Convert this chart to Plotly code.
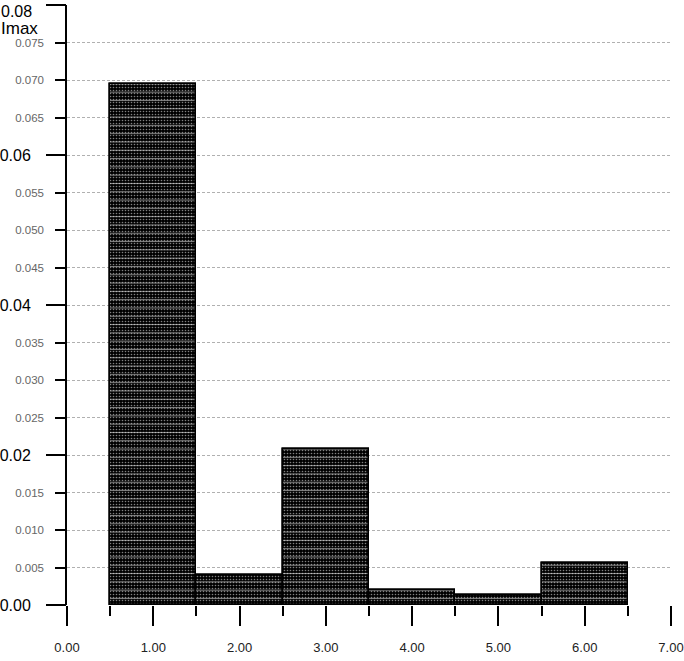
import plotly.graph_objects as go

categories = [1, 2, 3, 4, 5, 6]
values = [0.0695, 0.0040, 0.0208, 0.0020, 0.0013, 0.0056]
x_tick_vals = [0, 1, 2, 3, 4, 5, 6, 7]
x_tick_text = ["0.00", "1.00", "2.00", "3.00", "4.00", "5.00", "6.00", "7.00"]
y_major_vals = [0.0, 0.02, 0.04, 0.06, 0.08]
y_major_text = ["0.00", "0.02", "0.04", "0.06", ""]
y_top_label = "0.08"
y_minor_vals = [i * 0.005 for i in range(17)]
y_minor_text = ["" if i % 4 == 0 else f"{i*0.005:.3f}" for i in range(17)]
y_label = "Imax"

FONT = "Liberation Sans, Arial, sans-serif"
EPSX = 1e-6
EPSY = 1e-8

fig = go.Figure()
fig.add_trace(go.Bar(
    x=categories, y=values, width=1.0,
    marker=dict(color="black", line=dict(color="black", width=1.5),
                pattern=dict(shape=".", fgcolor="white", bgcolor="black", size=3, solidity=0.22)),
    showlegend=False, hoverinfo="skip",
))
fig.add_trace(go.Bar(
    x=categories, y=values, width=1.0,
    marker=dict(color="rgba(0,0,0,0)", line=dict(color="black", width=1.5),
                pattern=dict(shape="-", fgcolor="white", bgcolor="rgba(0,0,0,0)", size=8.3, solidity=0.13,
                             fillmode="overlay")),
    showlegend=False, hoverinfo="skip",
))
fig.add_trace(go.Scatter(x=[], y=[], yaxis="y2", showlegend=False, hoverinfo="skip"))

fig.update_layout(
    width=684, height=661,
    margin=dict(l=67, r=13, t=5, b=56, autoexpand=False),
    paper_bgcolor="white", plot_bgcolor="white",
    barmode="overlay", bargap=0,
    xaxis=dict(
        range=[-EPSX, 7 + EPSX], tickvals=x_tick_vals, ticktext=x_tick_text,
        ticks="outside", ticklen=20, tickwidth=1.5, tickcolor="black",
        minor=dict(tickvals=[0.5, 1.5, 2.5, 3.5, 4.5, 5.5, 6.5], ticks="outside", ticklen=10,
                   tickwidth=1.5, tickcolor="black", showgrid=False),
        showgrid=False, showline=False, zeroline=False, automargin=False,
        tickfont=dict(family=FONT, size=13, color="#222"),
        ticklabelstandoff=10, ticklabeloverflow="allow",
    ),
    yaxis=dict(
        range=[-EPSY, 0.08 + EPSY], tickvals=y_minor_vals, ticktext=y_minor_text,
        ticks="outside", ticklen=10, tickwidth=1.5, tickcolor="black",
        showgrid=True, gridcolor="#b0b0b0", gridwidth=1, griddash="3px,2px",
        showline=True, linecolor="black", linewidth=1.5, zeroline=False, automargin=False,
        tickfont=dict(family=FONT, size=11.5, color="#666"),
        ticklabelstandoff=9, ticklabeloverflow="allow",
    ),
    yaxis2=dict(
        range=[-EPSY, 0.08 + EPSY], overlaying="y", side="left",
        tickvals=y_major_vals, ticktext=y_major_text,
        ticks="outside", ticklen=20, tickwidth=1.5, tickcolor="black",
        showgrid=False, showline=False, zeroline=False, automargin=False,
        tickfont=dict(family=FONT, size=16, color="black"),
        ticklabelstandoff=12, ticklabeloverflow="allow",
    ),
    annotations=[
        dict(text=y_top_label, xref="paper", yref="paper", x=-67/604, y=1 - 6/600,
             xanchor="left", yanchor="middle", showarrow=False, borderpad=0,
             font=dict(family=FONT, size=16, color="black")),
        dict(text=y_label, xref="paper", yref="paper", x=-67/604, y=1 - 23/600,
             xanchor="left", yanchor="middle", showarrow=False, borderpad=0,
             font=dict(family=FONT, size=17, color="black")),
    ],
)

fig.write_html("out.html", config={"displayModeBar": False},
               post_script="document.body.style.margin='0px';document.body.style.overflow='hidden';")
